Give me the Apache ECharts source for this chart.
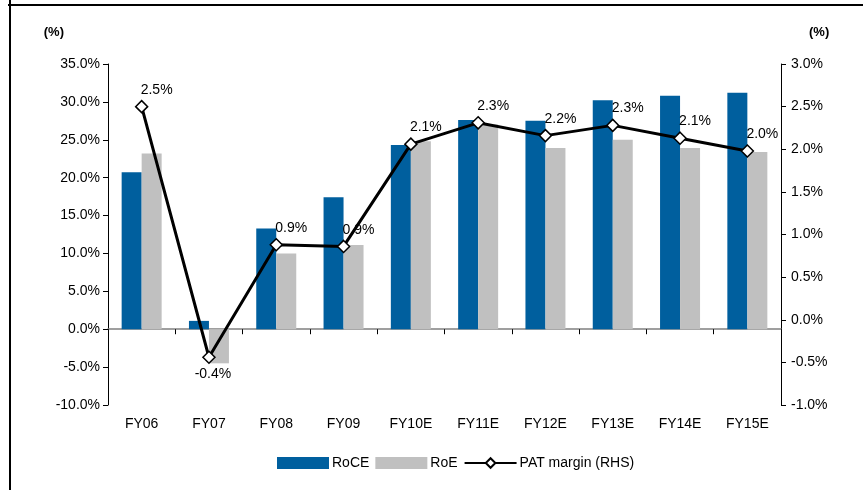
<!DOCTYPE html>
<html>
<head>
<meta charset="utf-8">
<script src="https://cdn.jsdelivr.net/npm/echarts@6/dist/echarts.min.js"></script>
<style>
  html, body { margin: 0; padding: 0; background: #fff; }
  #chart { width: 863px; height: 490px; }
</style>
</head>
<body>
<div id="chart"></div>
<script>
  // data
  var years = ['FY06', 'FY07', 'FY08', 'FY09', 'FY10E', 'FY11E', 'FY12E', 'FY13E', 'FY14E', 'FY15E'];
  var roce = [20.7, 1.1, 13.3, 17.4, 24.3, 27.6, 27.5, 30.2, 30.8, 31.2];
  var roe = [23.2, -4.5, 10.0, 11.1, 24.8, 27.0, 23.9, 25.0, 23.9, 23.4];
  var patMargin = [2.50, -0.44, 0.88, 0.86, 2.06, 2.31, 2.16, 2.28, 2.13, 1.98];

  var font = 'Liberation Sans, Arial, sans-serif';
  var blue = '#005f9e';
  var grey = '#c0c0c0';

  var chart = echarts.init(document.getElementById('chart'));

  // the negative point has its label under the marker
  var patData = patMargin.map(function (v) {
    if (v < 0) {
      return { value: v, label: { position: 'bottom', offset: [4, 0] } };
    }
    return v;
  });

  var pct = function (v) { return v.toFixed(1) + '%'; };

  var option = {
    animation: false,
    backgroundColor: '#fff',
    textStyle: { fontFamily: font },
    grid: { left: 108, right: 82, top: 64, bottom: 85 },
    legend: {
      bottom: 15,
      left: 272,
      itemGap: 6,
      itemWidth: 52,
      itemHeight: 12,
      textStyle: { fontSize: 14, color: '#000', fontFamily: font, padding: [0, 0, 0, -2] },
      data: [
        { name: 'RoCE', icon: 'rect' },
        { name: 'RoE', icon: 'rect' },
        { name: 'PAT margin (RHS)' }
      ]
    },
    xAxis: [{
      type: 'category',
      data: years,
      position: 'bottom',
      axisLine: { show: false, onZero: false },
      axisTick: { show: false },
      axisLabel: { color: '#000', fontSize: 14, margin: 12 }
    }, {
      // zero line with ticks between the categories
      type: 'category',
      data: years,
      position: 'bottom',
      axisLine: { onZero: true, onZeroAxisIndex: 0, lineStyle: { color: '#808080', width: 1.5 } },
      axisTick: { show: true, length: 5, lineStyle: { color: '#000' } },
      axisLabel: { show: false }
    }],
    yAxis: [{
      type: 'value',
      min: -10, max: 35, interval: 5,
      name: '(%)',
      nameLocation: 'end',
      nameGap: 25,
      nameTextStyle: { fontWeight: 'bold', fontSize: 13, color: '#000', align: 'right', padding: [0, 44, 0, 0] },
      axisLine: { show: true, lineStyle: { color: '#000' } },
      axisTick: { show: true, length: 5, lineStyle: { color: '#000' } },
      splitLine: { show: false },
      axisLabel: { color: '#000', fontSize: 14, margin: 8, formatter: pct }
    }, {
      type: 'value',
      min: -1, max: 3, interval: 0.5,
      position: 'right',
      name: '(%)',
      nameLocation: 'end',
      nameGap: 25,
      nameTextStyle: { fontWeight: 'bold', fontSize: 13, color: '#000', align: 'left', padding: [0, 0, 0, 28] },
      axisLine: { show: true, lineStyle: { color: '#000' } },
      axisTick: { show: true, length: 5, lineStyle: { color: '#000' } },
      splitLine: { show: false },
      axisLabel: { color: '#000', fontSize: 14, margin: 10, formatter: pct }
    }],
    series: [{
      name: 'RoCE',
      type: 'bar',
      data: roce,
      barWidth: 20,
      barGap: '0%',
      itemStyle: { color: blue }
    }, {
      name: 'RoE',
      type: 'bar',
      data: roe,
      barWidth: 20,
      itemStyle: { color: grey }
    }, {
      name: 'PAT margin (RHS)',
      type: 'line',
      yAxisIndex: 1,
      data: patData,
      symbol: 'diamond',
      symbolSize: 12,
      lineStyle: { color: '#000', width: 3 },
      itemStyle: { color: '#fff', borderColor: '#000', borderWidth: 1.5 },
      label: {
        show: true,
        position: 'top',
        distance: 3,
        offset: [15, 0],
        color: '#000',
        fontSize: 14,
        formatter: function (p) { return pct(p.value); }
      },
      z: 5
    }],
    graphic: [
      { type: 'rect', shape: { x: 8, y: 4, width: 855, height: 2 }, style: { fill: '#000' } },
      { type: 'rect', shape: { x: 9, y: 0, width: 2, height: 490 }, style: { fill: '#000' } }
    ]
  };

  chart.setOption(option);
</script>
</body>
</html>
